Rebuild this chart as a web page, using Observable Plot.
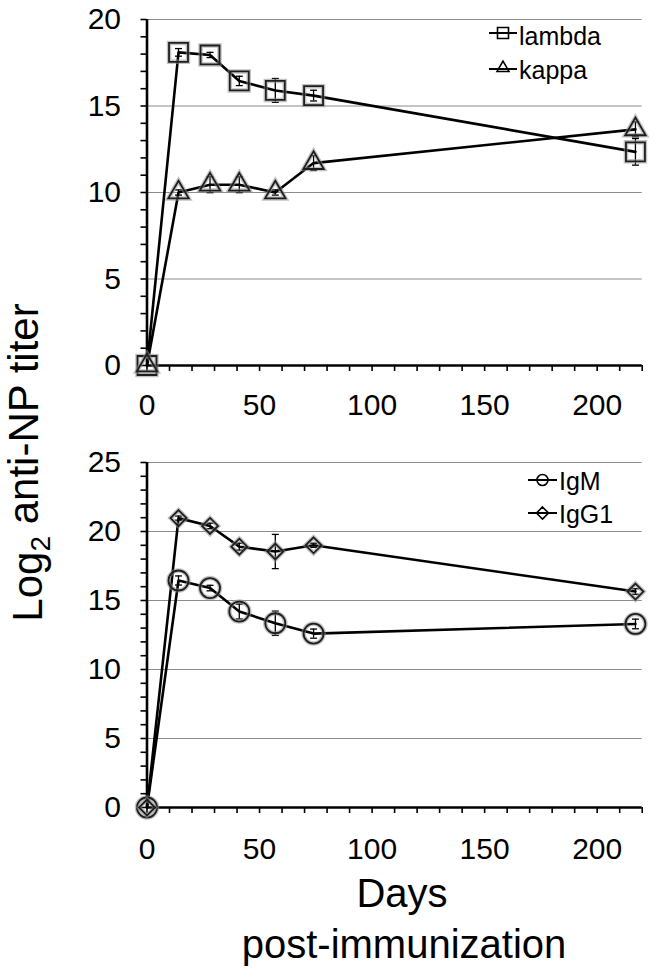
<!DOCTYPE html>
<html>
<head>
<meta charset="utf-8">
<script src="https://cdn.jsdelivr.net/npm/d3@7"></script>
<script src="https://cdn.jsdelivr.net/npm/@observablehq/plot@0.6"></script>
<style>
  html, body { margin: 0; padding: 0; background: #fff; }
  #wrap { position: relative; width: 659px; height: 977px; overflow: hidden; font-family: "Liberation Sans", Arial, Helvetica, sans-serif; }
  #wrap > svg { position: absolute; left: 0; }
</style>
</head>
<body>
<div id="wrap"></div>
<script>
// ---- data ----
const days = [0, 14, 28, 41, 57, 74, 217];

const lambda    = [0, 18.1, 17.95, 16.45, 15.9, 15.6, 12.35];
const lambdaErr = [0, 0.22, 0.15, 0.27, 0.69, 0.31, 0.77];
const kappa     = [0, 10.0, 10.45, 10.45, 10.0, 11.7, 13.65];
const kappaErr  = [0, 0.15, 0.46, 0.46, 0.15, 0.43, 0.43];

const igm      = [0, 16.45, 15.9, 14.2, 13.35, 12.6, 13.3];
const igmErr   = [0, 0.33, 0.2, 0.54, 0.88, 0.33, 0.35];
const igg1     = [0, 20.97, 20.4, 18.9, 18.55, 19.0, 15.65];
const igg1Err  = [0, 0.15, 0.2, 0.25, 1.24, 0.15, 0.2];

const topSeries = ["lambda", "kappa"];
const bottomSeries = ["IgM", "IgG1"];
const xTickLabels = [0, 50, 100, 150, 200];
const topYTicks = [0, 5, 10, 15, 20];
const bottomYTicks = [0, 5, 10, 15, 20, 25];
const yTitle = "anti-NP titer";
const xTitle1 = "Days";
const xTitle2 = "post-immunization";

// ---- helpers ----
const FONT = '"Liberation Sans", Arial, Helvetica, sans-serif';
const capSymbol = {
  draw(ctx, size) {
    const r = Math.sqrt(size / Math.PI);
    ctx.moveTo(-r, 0); ctx.lineTo(r, 0);
  }
};

function rows(name, vals, errs, symbol, r) {
  return days.map((d, i) => ({series: name, day: d, value: vals[i], err: errs[i], symbol, r}));
}

function panel({data, yMax, yTicks, height, marginTop, marginBottom, tickPad}) {
  const errData = data.filter(d => d.err > 0);
  const symbols = Array.from(new Set(data.map(d => d.symbol)));
  const markers = [];
  for (const s of symbols) {
    const sub = data.filter(d => d.symbol === s);
    const r = sub[0].r;
    markers.push(Plot.dot(sub, {x: "day", y: "value", symbol: s, r, fill: "none", stroke: "#8f8f8f", strokeWidth: 4.5, strokeOpacity: 0.55}));
    markers.push(Plot.dot(sub, {x: "day", y: "value", symbol: s, r, fill: "none", stroke: "#1e1e1e", strokeWidth: 1.8}));
  }
  return Plot.plot({
    width: 659,
    height,
    marginLeft: 146.5,
    marginRight: 17.3,
    marginTop,
    marginBottom,
    x: {domain: [0, 220], axis: null},
    y: {domain: [0, yMax], axis: null},
    style: {fontFamily: FONT, background: "transparent", overflow: "visible", color: "#000"},
    marks: [
      Plot.gridY(yTicks.filter(t => t > 0), {stroke: "#8c8c8c", strokeOpacity: 1, strokeWidth: 1.2}),
      Plot.axisY({ticks: d3.range(0, yMax + 1, 1), tickSize: 6, tickFormat: () => "", strokeWidth: 1.6, label: null}),
      Plot.axisY({ticks: yTicks, tickSize: 0, tickPadding: 26, fontSize: 30, label: null}),
      Plot.axisX({ticks: d3.range(0, 221, 10), tickSize: 6, tickFormat: () => "", strokeWidth: 1.6, label: null}),
      Plot.axisX({ticks: xTickLabels, tickSize: 0, tickPadding: tickPad, fontSize: 30, label: null}),
      Plot.ruleX([0], {stroke: "#000", strokeWidth: 2.6}),
      Plot.ruleY([0], {stroke: "#000", strokeWidth: 2.6}),
      Plot.ruleX(errData, {x: "day", y1: d => d.value - d.err, y2: d => d.value + d.err, stroke: "#000", strokeWidth: 1.3}),
      Plot.dot(errData, {x: "day", y: d => d.value - d.err, symbol: capSymbol, r: 3.5, fill: "none", stroke: "#000", strokeWidth: 1.3}),
      Plot.dot(errData, {x: "day", y: d => d.value + d.err, symbol: capSymbol, r: 3.5, fill: "none", stroke: "#000", strokeWidth: 1.3}),
      Plot.line(data, {x: "day", y: "value", z: "series", stroke: "#000", strokeWidth: 2.6}),
      ...markers
    ]
  });
}

const wrap = document.getElementById("wrap");

const topData = [
  ...rows(topSeries[0], lambda, lambdaErr, "square", 10.7),
  ...rows(topSeries[1], kappa, kappaErr, "triangle", 7.6)
];
const bottomData = [
  ...rows(bottomSeries[0], igm, igmErr, "circle", 10),
  ...rows(bottomSeries[1], igg1, igg1Err, "diamond2", 7.2)
];

const topPlot = panel({data: topData, yMax: 20, yTicks: topYTicks, height: 430, marginTop: 19, marginBottom: 65, tickPad: 28});
topPlot.style.top = "0px";
wrap.appendChild(topPlot);

const bottomPlot = panel({data: bottomData, yMax: 25, yTicks: bottomYTicks, height: 440, marginTop: 22, marginBottom: 73, tickPad: 30});
bottomPlot.style.top = "440px";
wrap.appendChild(bottomPlot);

// ---- overlay: titles and legends ----
const svg = d3.create("svg")
  .attr("width", 659).attr("height", 977)
  .style("top", "0px")
  .style("pointer-events", "none")
  .style("font-family", FONT);

const t = svg.append("text")
  .attr("transform", "translate(42,462.5) rotate(-90)")
  .attr("text-anchor", "middle")
  .attr("font-size", 42)
  .attr("fill", "#000");
t.append("tspan").text("Log");
t.append("tspan").attr("font-size", 28).attr("dy", "0.28em").text("2");
t.append("tspan").attr("dy", "-0.28em").text("\u00a0" + yTitle);

svg.append("text").attr("x", 402).attr("y", 907).attr("text-anchor", "middle")
  .attr("font-size", 40).attr("fill", "#000").text(xTitle1);
svg.append("text").attr("x", 404).attr("y", 958).attr("text-anchor", "middle")
  .attr("font-size", 40).attr("fill", "#000").text(xTitle2);

function legendItem(x0, x1, y, symType, size, label, ty) {
  svg.append("line").attr("x1", x0).attr("x2", x1).attr("y1", y).attr("y2", y)
    .attr("stroke", "#000").attr("stroke-width", 2);
  svg.append("path").attr("d", d3.symbol().type(symType).size(size)())
    .attr("transform", `translate(${(x0 + x1) / 2},${symType === d3.symbolTriangle ? y - 1 : y})`)
    .attr("fill", "none").attr("stroke", "#000").attr("stroke-width", 1.6);
  svg.append("text").attr("x", x1 + 2).attr("y", ty).attr("font-size", 25)
    .attr("fill", "#000").text(label);
}
legendItem(489, 517, 33, d3.symbolSquare, 121, topSeries[0], 45);
legendItem(489, 517, 69, d3.symbolTriangle, 62, topSeries[1], 79);
legendItem(528, 557, 480, d3.symbolCircle, 95, bottomSeries[0], 490);
legendItem(528, 557, 513, d3.symbolDiamond2, 92, bottomSeries[1], 523);

wrap.appendChild(svg.node());
</script>
</body>
</html>
